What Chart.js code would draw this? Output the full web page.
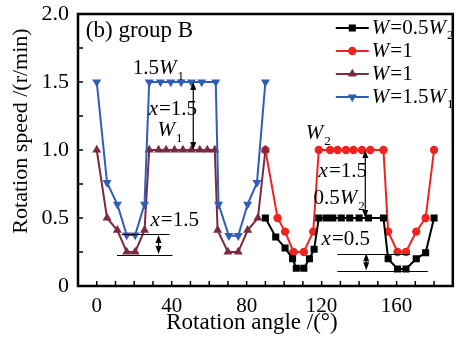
<!DOCTYPE html>
<html>
<head>
<meta charset="utf-8">
<script src="https://cdn.jsdelivr.net/npm/chart.js@4"></script>
<style>
html, body { margin: 0; padding: 0; background: #fff; }
</style>
</head>
<body>
<canvas id="c" width="458" height="338"></canvas>
<script>
// W = 0.5 W2 (black squares)
const angleBlack = [90, 95.5, 100.5, 104.5, 106.5, 110.5, 113.5, 116, 118.5, 122.5, 126, 130.5, 135, 140, 145, 153, 155.5, 160.5, 165, 170.5, 175.5, 180];
const speedBlack = [0.5, 0.36, 0.28, 0.2, 0.13, 0.13, 0.2, 0.27, 0.5, 0.5, 0.5, 0.5, 0.5, 0.5, 0.5, 0.5, 0.2, 0.125, 0.125, 0.2, 0.245, 0.5];
// W = 1 (red circles)
const angleRed = [90, 96.5, 100.5, 105, 110.5, 115.5, 118.5, 124.5, 128.5, 133, 137, 141.5, 146, 153, 155.5, 160.5, 165, 170.5, 175.5, 180];
const speedRed = [1.0, 0.5, 0.4, 0.25, 0.25, 0.4, 1.0, 1.0, 1.0, 1.0, 1.0, 1.0, 1.0, 1.0, 0.4, 0.25, 0.25, 0.4, 0.5, 1.0];
// W = 1 (brown triangles)
const angleBrown = [0, 5.5, 11, 16, 20.5, 25.5, 28, 33, 37, 41.5, 46, 50.5, 55, 59, 63, 64.5, 70, 75.5, 80.5, 86, 90];
const speedBrown = [1.0, 0.5, 0.41, 0.25, 0.25, 0.41, 1.0, 1.0, 1.0, 1.0, 1.0, 1.0, 1.0, 1.0, 1.0, 0.41, 0.25, 0.25, 0.41, 0.5, 1.0];
// W = 1.5 W1 (blue down triangles)
const angleBlue = [0, 5.5, 11, 16, 20.5, 25.5, 28, 34, 39.5, 45, 50.5, 56, 63.5, 65, 70.5, 75.5, 80.5, 85.5, 90];
const speedBlue = [1.5, 0.76, 0.6, 0.375, 0.375, 0.6, 1.5, 1.5, 1.5, 1.5, 1.5, 1.5, 1.5, 0.6, 0.37, 0.37, 0.6, 0.76, 1.5];

const seriesNames = ['W=0.5W_2', 'W=1', 'W=1', 'W=1.5W_1'];
const xTickLabels = [0, 40, 80, 120, 160];
const yTickLabels = [0, 0.5, 1.0, 1.5, 2.0];

// annotations, in data units: text, angle, speed, font size
const notes = [
  ['(b) group B', -5.8, 1.875, 23],
  ['1.5W_1', 19.2, 1.6, 21],
  ['x=1.5', 27.7, 1.30, 21],
  ['W_1', 32.4, 1.14, 21],
  ['x=1.5', 28.7, 0.48, 21],
  ['W_2', 111.5, 1.12, 21],
  ['x=1.5', 118.4, 0.84, 21],
  ['0.5W_2', 115.7, 0.64, 21],
  ['x=0.5', 120, 0.34, 21]
];
const arrows = [[51.5, 1.5, 1.0], [33, 0.375, 0.235], [143.3, 1.0, 0.5], [143.8, 0.24, 0.115]];
const levelLines = [[13.2, 38.8, 0.38], [10.8, 40.4, 0.228], [128.4, 167.2, 0.235], [128.4, 176.7, 0.11]];

const FONT = '"Liberation Serif", "Times New Roman", serif';
const pts = (xs, ys) => xs.map((x, i) => ({ x, y: ys[i] }));

function richParts(s) {
  const out = [];
  for (let i = 0; i < s.length; i++) {
    let p;
    if (s[i] === '_') p = { t: s[++i], sub: true };
    else p = { t: s[i], it: s[i] === 'W' || s[i] === 'x' };
    const last = out[out.length - 1];
    if (last && last.sub === p.sub && last.it === p.it) last.t += p.t;
    else out.push(p);
  }
  return out;
}

function drawRich(ctx, s, x, y, size) {
  let cx = x;
  ctx.textAlign = 'left';
  ctx.textBaseline = 'middle';
  for (const p of richParts(s)) {
    const fs = p.sub ? Math.round(size * 0.62) : size;
    ctx.font = (p.it ? 'italic ' : '') + fs + 'px ' + FONT;
    ctx.fillText(p.t, cx, y + (p.sub ? size * 0.38 : 0));
    cx += ctx.measureText(p.t).width + (p.it ? 1 : 0);
  }
}

function arrowHead(ctx, x, y, dir) {
  ctx.beginPath();
  ctx.moveTo(x, y);
  ctx.lineTo(x - 3, y - dir * 8);
  ctx.lineTo(x + 3, y - dir * 8);
  ctx.closePath();
  ctx.fill();
}

const decor = {
  id: 'decor',
  afterDraw(chart) {
    const { ctx, chartArea: a, scales: { x, y } } = chart;
    ctx.save();
    ctx.strokeStyle = '#000';
    ctx.fillStyle = '#000';

    // inward ticks
    ctx.lineWidth = 1.5;
    ctx.beginPath();
    for (let v = -10; v <= 190; v += 10) {
      const px = x.getPixelForValue(v);
      ctx.moveTo(px, a.bottom); ctx.lineTo(px, a.bottom - 5);
    }
    for (let v = 0; v <= 2; v += 0.25) {
      const py = y.getPixelForValue(v);
      ctx.moveTo(a.left, py); ctx.lineTo(a.left + 5, py);
    }
    ctx.stroke();

    // frame
    ctx.lineWidth = 2.5;
    ctx.strokeRect(a.left, a.top, a.right - a.left, a.bottom - a.top);

    // axis titles
    ctx.font = '23px ' + FONT;
    ctx.textAlign = 'center';
    ctx.textBaseline = 'middle';
    ctx.fillText('Rotation angle /(°)', 252, 323);
    ctx.save();
    ctx.translate(21, 131);
    ctx.rotate(-Math.PI / 2);
    ctx.font = '22px ' + FONT;
    ctx.fillText('Rotation speed /(r/min)', 0, 0);
    ctx.restore();

    // level lines
    ctx.lineWidth = 1;
    ctx.beginPath();
    levelLines.forEach(([a1, a2, v]) => {
      const py = Math.round(y.getPixelForValue(v)) + 0.5;
      ctx.moveTo(x.getPixelForValue(a1), py); ctx.lineTo(x.getPixelForValue(a2), py);
    });
    ctx.stroke();

    // arrows
    arrows.forEach(([ang, v1, v2]) => {
      const px = x.getPixelForValue(ang), p1 = y.getPixelForValue(v1), p2 = y.getPixelForValue(v2);
      ctx.lineWidth = 1.2;
      ctx.beginPath(); ctx.moveTo(px, p1 + 4); ctx.lineTo(px, p2 - 4); ctx.stroke();
      arrowHead(ctx, px, p1, -1);
      arrowHead(ctx, px, p2, 1);
    });

    // notes
    notes.forEach(([t, ang, v, fs]) => drawRich(ctx, t, x.getPixelForValue(ang), y.getPixelForValue(v), fs));

    // legend
    const lx = a.right - 117, ly = a.top + 14, step = 23;
    chart.data.datasets.forEach((ds, i) => {
      const yy = ly + i * step;
      ctx.strokeStyle = ds.borderColor;
      ctx.fillStyle = ds.borderColor;
      ctx.lineWidth = 2;
      ctx.beginPath(); ctx.moveTo(lx, yy); ctx.lineTo(lx + 33, yy); ctx.stroke();
      Chart.helpers.drawPoint(ctx, { pointStyle: ds.pointStyle, radius: ds.pointRadius, rotation: ds.pointRotation || 0 }, lx + 16.5, yy);
      ctx.fillStyle = '#000';
      drawRich(ctx, seriesNames[i], lx + 36, yy, 21);
    });
    ctx.restore();
  }
};

const mk = (xs, ys, color, style, r, rot, order) => ({
  data: pts(xs, ys),
  borderColor: color,
  backgroundColor: color,
  borderWidth: 2,
  pointStyle: style,
  pointRadius: r,
  pointRotation: rot,
  pointBorderWidth: 0,
  tension: 0,
  order
});

new Chart(document.getElementById('c').getContext('2d'), {
  type: 'line',
  data: {
    datasets: [
      mk(angleBlack, speedBlack, '#000000', 'rect', 5, 0, 2),
      mk(angleRed, speedRed, '#ee2420', 'circle', 4.2, 0, 3),
      mk(angleBrown, speedBrown, '#7a2b40', 'triangle', 5.2, 0, 1),
      mk(angleBlue, speedBlue, '#2f5db8', 'triangle', 5.2, 180, 0)
    ]
  },
  options: {
    responsive: false,
    animation: false,
    layout: { padding: { left: 0, right: 3, top: 14, bottom: 0 } },
    plugins: { legend: { display: false }, tooltip: { enabled: false } },
    scales: {
      x: {
        type: 'linear', min: -10, max: 190,
        grid: { display: false, drawTicks: false },
        border: { display: false },
        afterFit: (s) => { s.height = 52; s.paddingLeft = 0; s.paddingRight = 0; },
        ticks: {
          stepSize: 10, autoSkip: false, maxRotation: 0, padding: 8, color: '#000',
          font: { family: FONT, size: 21 },
          callback: (v) => xTickLabels.includes(v) ? String(v) : ''
        }
      },
      y: {
        min: 0, max: 2,
        grid: { display: false, drawTicks: false },
        border: { display: false },
        afterFit: (s) => { s.width = 78; s.paddingTop = 0; s.paddingBottom = 0; },
        ticks: {
          stepSize: 0.25, autoSkip: false, padding: 9, color: '#000',
          font: { family: FONT, size: 22 },
          callback: (v) => yTickLabels.includes(v) ? (v === 0 ? '0' : v.toFixed(1)) : ''
        }
      }
    }
  },
  plugins: [decor]
});
</script>
</body>
</html>
